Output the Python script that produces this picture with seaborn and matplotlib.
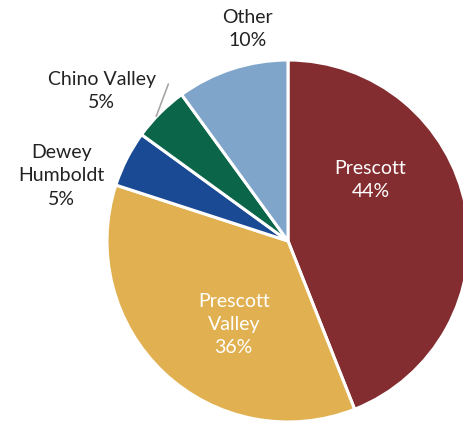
import matplotlib
matplotlib.use("Agg")
import matplotlib.pyplot as plt
import seaborn as sns

# share of total by area
areas = ["Prescott", "Prescott Valley", "Dewey Humboldt", "Chino Valley", "Other"]
shares = [44, 36, 5, 5, 10]
label_text = ["Prescott\n44%", "Prescott\nValley\n36%", "Dewey\nHumboldt\n5%",
              "Chino Valley\n5%", "Other\n10%"]
colors = ["#842D31", "#E1B151", "#1B4A94", "#0B6549", "#7FA5CA"]

sns.set_theme(style="white")
plt.rcParams["font.family"] = ["Lato", "DejaVu Sans"]

fig = plt.figure(figsize=(4.63, 4.27), dpi=100)
# circle centre at (288, 242) px, radius 181 px
ax = fig.add_axes([107 / 463, 4 / 427, 362 / 463, 362 / 427])

wedges, _ = ax.pie(shares, colors=colors, startangle=90, counterclock=False,
                   radius=1.0, wedgeprops=dict(edgecolor="white", linewidth=2.2))
ax.set_xlim(-1, 1)
ax.set_ylim(-1, 1)
ax.set_aspect("equal")
ax.axis("off")

label_pos = [(0.456, 0.344), (-0.30, -0.456), (-1.25, 0.366), (-1.03, 0.833), (-0.222, 1.178)]
label_color = ["white", "white", "#222222", "#222222", "#222222"]
for txt, (x, y), c in zip(label_text, label_pos, label_color):
    ax.text(x, y, txt, ha="center", va="center", fontsize=14, color=c,
            linespacing=1.45, clip_on=False)

# leader line for Chino Valley
ax.plot([-0.728, -0.661], [0.689, 0.867], color="#A6A6A6", lw=1.2, clip_on=False)

fig.savefig("out.png", dpi=100)
